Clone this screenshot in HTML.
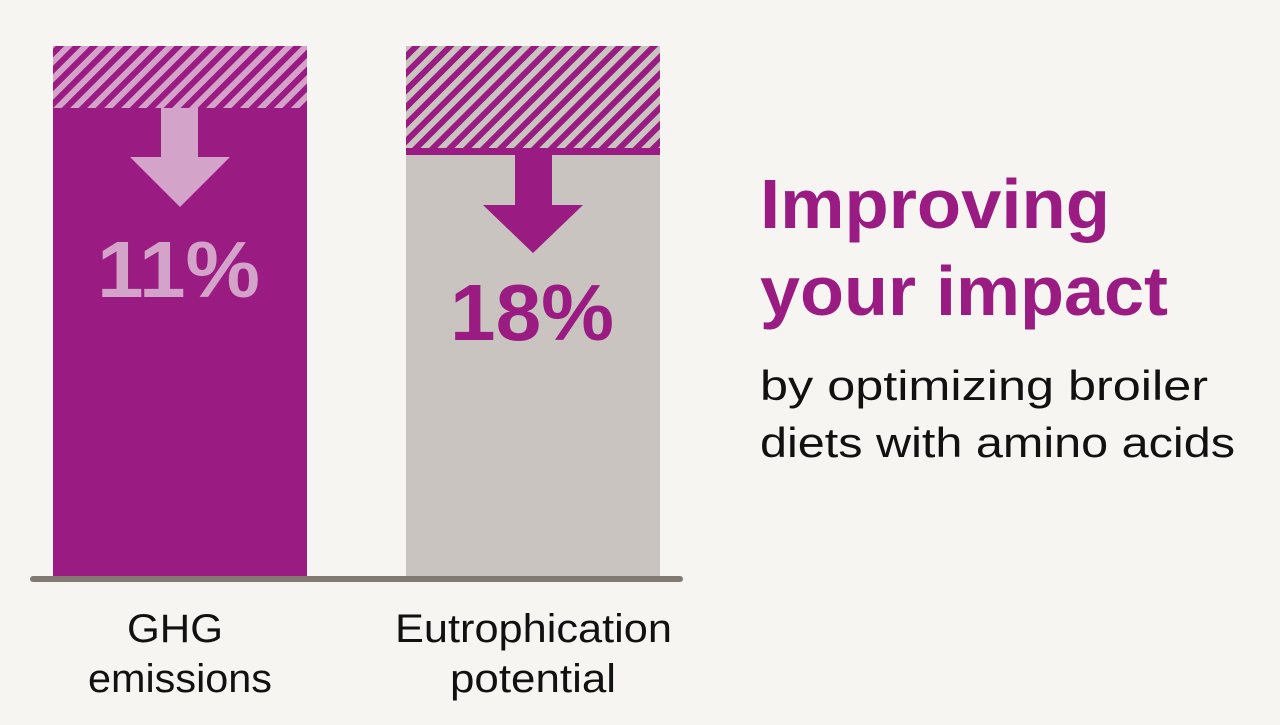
<!DOCTYPE html>
<html><head><style>
body{margin:0;width:1280px;height:720px;background:#f6f5f2;overflow:hidden;font-family:"Liberation Sans",sans-serif}
</style></head><body>
<svg width="1280" height="720" xmlns="http://www.w3.org/2000/svg">
<defs>
<pattern id="h1" patternUnits="userSpaceOnUse" width="12" height="12" patternTransform="rotate(45)">
<rect width="12" height="12" fill="#d4a3c9"/><rect width="6" height="12" fill="#9a1b82"/></pattern>
<pattern id="h2" patternUnits="userSpaceOnUse" width="12" height="12" patternTransform="rotate(45)">
<rect width="12" height="12" fill="#c9c4bf"/><rect width="6" height="12" fill="#9a1b82"/></pattern>
</defs>
<rect x="53" y="46" width="254" height="62" fill="url(#h1)"/>
<rect x="53" y="108" width="254" height="470" fill="#9a1b82"/>
<polygon points="161,108 198,108 198,157 230,157 180,207 130,157 161,157" fill="#d4a3c9"/>
<rect x="406" y="46" width="254" height="102" fill="url(#h2)"/>
<rect x="406" y="148" width="254" height="7" fill="#9a1b82"/>
<rect x="406" y="155" width="254" height="423" fill="#c9c4bf"/>
<polygon points="515,155 552,155 552,205 583,205 533,253 483,205 515,205" fill="#9a1b82"/>
<rect x="30" y="576" width="653" height="6" rx="3" fill="#827a72"/>
<g font-family="Liberation Sans, sans-serif" font-weight="bold">
<text x="97" y="297" font-size="80" fill="#d4a3c9" textLength="163" lengthAdjust="spacingAndGlyphs">11%</text>
<text x="450" y="340" font-size="80" fill="#9a1b82" textLength="164" lengthAdjust="spacingAndGlyphs">18%</text>
<text x="760" y="228" font-size="70" fill="#9a1b82" textLength="350" lengthAdjust="spacingAndGlyphs">Improving</text>
<text x="760" y="315" font-size="70" fill="#9a1b82" textLength="408" lengthAdjust="spacingAndGlyphs">your impact</text>
</g>
<g font-family="Liberation Sans, sans-serif" fill="#111">
<text x="760" y="400" font-size="42" textLength="448" lengthAdjust="spacingAndGlyphs">by optimizing broiler</text>
<text x="760" y="457" font-size="42" textLength="475" lengthAdjust="spacingAndGlyphs">diets with amino acids</text>
<text x="127" y="642" font-size="40" textLength="96" lengthAdjust="spacingAndGlyphs">GHG</text>
<text x="88" y="692" font-size="40" textLength="184" lengthAdjust="spacingAndGlyphs">emissions</text>
<text x="395" y="642" font-size="40" textLength="277" lengthAdjust="spacingAndGlyphs">Eutrophication</text>
<text x="450" y="692" font-size="40" textLength="166" lengthAdjust="spacingAndGlyphs">potential</text>
</g>
</svg>
</body></html>
